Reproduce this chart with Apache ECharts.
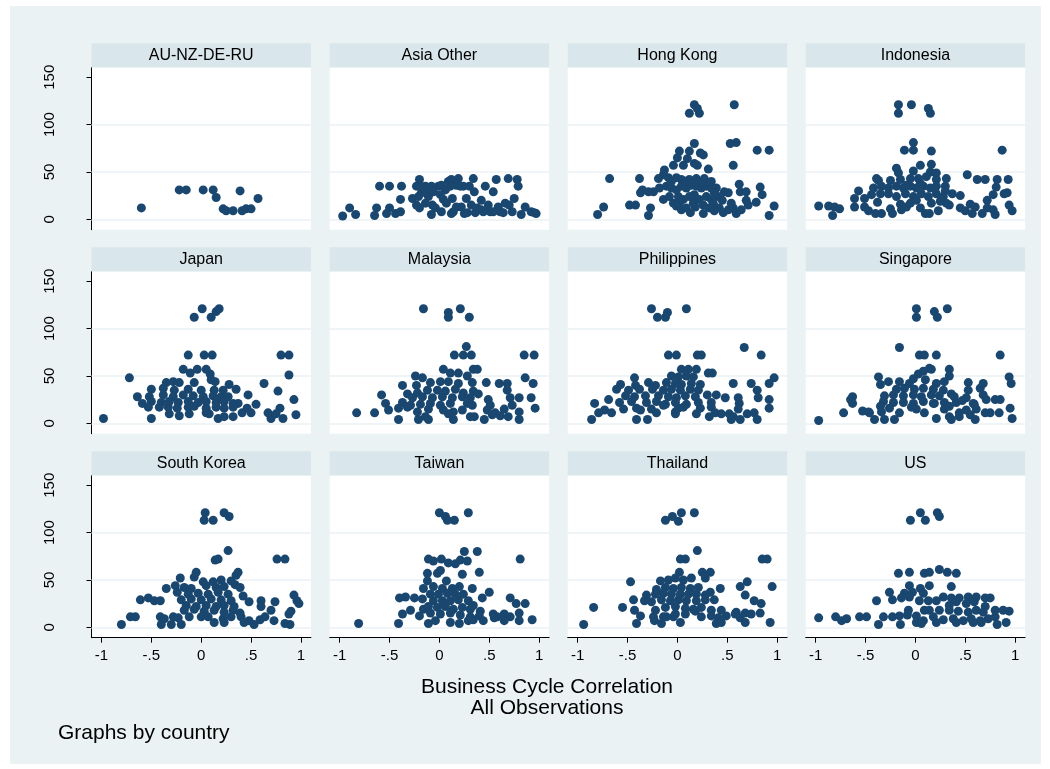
<!DOCTYPE html>
<html lang="en">
<head>
<meta charset="UTF-8">
<title>Business Cycle Correlation by country</title>
<script src="https://cdn.jsdelivr.net/npm/echarts@6/dist/echarts.min.js"></script>
<style>
    body {
        margin: 0;
        background: #fff;
    }

    .zc-frame {
        position: absolute;
        left: 10px;
        top: 6px;
        width: 1031px;
        height: 758px;
        background: #eaf2f3;
    }

    #chart {
        position: absolute;
        left: 0;
        top: 0;
        width: 1050px;
        height: 769px;
    }
</style>
</head>
<body>
<div class="zc-frame"></div>
<div id="chart"></div>
<script>
// panel names, in Stata "by()" order
var countries = ['AU-NZ-DE-RU', 'Asia Other', 'Hong Kong', 'Indonesia',
    'Japan', 'Malaysia', 'Philippines', 'Singapore',
    'South Korea', 'Taiwan', 'Thailand', 'US'];

var xTicks = [-1, -0.5, 0, 0.5, 1];
var xTickLabels = ['-1', '-.5', '0', '.5', '1'];
var yTicks = [0, 50, 100, 150];
var yGridLines = [0, 50, 100];

// [correlation, value]
var auNzDeRu = [[-0.6,12],[-0.22,31],[-0.15,31],[0.02,31],[0.12,31],[0.15,23],[0.22,11],[0.25,9],[0.32,9],
    [0.39,30],[0.41,9],[0.45,11],[0.5,11],[0.57,22]];

var asiaOther = [[-0.97,3.5],[-0.9,12],[-0.84,5],[-0.65,4],[-0.63,12],[-0.6,35],[-0.5,35],[-0.53,6],[-0.5,12],
    [-0.44,6],[-0.39,8],[-0.38,35],[-0.39,21],[-0.27,22],[-0.23,35],[-0.2,42],[-0.19,35],[-0.18,28],[-0.23,15],
    [-0.2,12],[-0.14,35],[-0.13,29],[-0.11,24],[-0.08,35],[-0.07,15],[-0.08,5],[-0.04,12],[-0.01,35],[0.02,36],
    [0.02,8],[0.04,21],[0.06,31],[0.09,40],[0.11,35],[0.12,42],[0.13,22],[0.14,8],[0.17,36],[0.19,43],[0.21,35],
    [0.22,13],[0.24,35],[0.27,22],[0.28,7],[0.3,35],[0.32,15],[0.34,43],[0.35,29],[0.36,7],[0.38,12],[0.42,20],
    [0.44,8],[0.46,35],[0.49,15],[0.51,8],[0.54,29],[0.57,42],[0.59,13],[0.61,8],[0.64,7],[0.69,43],[0.7,15],
    [0.73,8],[0.75,22],[0.78,42],[0.79,35],[0.82,5],[0.86,13],[0.92,8],[0.97,6],[0.95,7],[-0.21,24],[-0.14,17],
    [-0.06,29],[0.01,26],[0.07,17],[0.17,13],[0.25,6],[0.12,6],[0.42,10],[0.54,8],[0.66,17]];

var hongKong = [[0.17,121],[0.12,112],[0.22,112],[0.2,117],[0.57,121],[0.53,80],[0.59,81],[0.8,73],[0.92,73],
    [0.56,57],[0.17,80],[0.02,72],[0.12,72],[0.23,70],[0.26,68],[0.0,65],[0.1,64],[-0.04,57],[0.06,57],[0.17,59],
    [0.2,57],[0.31,53],[-0.13,52],[-0.14,47],[-0.68,43],[-0.38,43],[-0.19,43],[-0.09,44],[-0.01,44],[0.04,42],
    [0.12,42],[0.19,43],[0.27,43],[-0.35,31],[-0.37,28],[-0.29,29],[-0.24,29],[-0.18,33],[-0.11,35],[-0.06,33],
    [-0.01,31],[0.04,35],[0.09,33],[0.14,36],[0.19,35],[0.24,33],[0.29,35],[0.34,33],[0.39,33],[0.47,29],[0.51,28],
    [0.62,37],[0.63,29],[0.69,29],[0.83,34],[0.85,26],[-0.14,21],[-0.08,24],[0.01,24],[0.06,21],[0.12,24],[0.17,26],
    [0.22,21],[0.29,24],[0.34,21],[0.41,24],[0.45,20],[0.69,20],[0.71,15],[0.79,18],[0.97,14],[-0.74,13],[-0.8,5],
    [-0.48,15],[-0.42,15],[-0.27,12],[-0.29,4],[-0.01,14],[0.04,10],[0.09,12],[0.13,7],[0.18,13],[0.26,6],[0.32,12],
    [0.37,9],[0.42,12],[0.46,7],[0.51,10],[0.56,12],[0.59,6],[0.64,10],[0.92,4],[-0.04,17],[0.02,17],[0.16,17],
    [0.26,15],[0.36,17],[0.54,17],[-0.06,40],[0.08,40],[0.24,39],[0.34,40],[0.37,28]];

var indonesia = [[-0.17,121],[-0.17,112],[-0.04,121],[0.13,117],[0.15,112],[-0.02,81],[-0.11,73],[-0.02,73],
    [0.16,72],[0.87,73],[-0.19,54],[-0.17,49],[0.05,57],[0.16,58],[-0.02,51],[0.15,50],[0.21,49],[0.52,47],[0.62,42],
    [0.7,42],[0.82,42],[0.93,42],[-0.39,43],[-0.37,41],[-0.25,41],[-0.15,42],[-0.05,43],[0.03,43],[0.11,45],[0.21,42],
    [0.31,43],[-0.57,30],[-0.42,33],[-0.34,35],[-0.27,33],[-0.19,35],[-0.12,33],[-0.05,35],[0.01,33],[0.08,35],
    [0.15,33],[0.21,35],[0.3,35],[0.3,30],[0.81,34],[-0.61,22],[-0.51,22],[-0.44,26],[-0.35,27],[-0.27,27],[-0.19,24],
    [-0.1,27],[-0.02,24],[0.06,27],[0.13,24],[0.21,27],[0.28,24],[0.37,27],[0.45,25],[0.78,26],[0.89,27],[0.92,28],
    [0.72,20],[-0.97,14],[-0.87,14],[-0.81,13],[-0.76,11],[-0.83,4],[-0.61,13],[-0.51,13],[-0.47,9],[-0.38,18],
    [-0.4,6],[-0.34,6],[-0.25,11],[-0.23,6],[-0.15,16],[-0.14,10],[-0.09,13],[-0.05,17],[0.05,12],[0.1,6],[0.14,6],
    [0.16,17],[0.23,9],[0.31,17],[0.34,15],[0.45,12],[0.5,9],[0.55,16],[0.57,6],[0.6,13],[0.67,6],[0.72,12],[0.78,10],
    [0.8,5],[0.94,15],[0.97,9],[0.01,20],[0.25,19],[-0.09,36],[0.05,38]];

var japan = [[-0.07,112],[0.01,121],[0.1,112],[0.15,118],[0.18,121],[-0.13,72],[0.03,72],[0.11,72],[0.8,72],
    [0.88,72],[0.88,51],[-0.18,57],[-0.11,53],[-0.04,57],[0.05,57],[0.09,52],[-0.72,48],[-0.07,43],[-0.35,43],
    [-0.28,44],[-0.22,43],[0.1,46],[0.14,44],[0.28,41],[0.35,36],[0.63,42],[-0.5,36],[-0.38,37],[-0.27,35],[-0.13,36],
    [0.0,35],[0.13,35],[0.22,35],[-0.64,28],[-0.52,28],[-0.38,30],[-0.28,28],[-0.18,30],[-0.08,29],[0.02,28],[0.12,29],
    [0.2,28],[0.27,28],[0.47,30],[0.77,34],[-0.59,21],[-0.5,23],[-0.4,22],[-0.32,23],[-0.23,22],[-0.13,23],[-0.03,22],
    [0.05,23],[0.15,22],[0.23,23],[0.32,21],[0.37,21],[0.55,20],[0.93,25],[-0.53,17],[-0.42,17],[-0.33,17],[-0.24,16],
    [-0.13,17],[-0.07,18],[0.05,16],[0.15,17],[0.23,16],[0.32,17],[0.46,16],[0.79,16],[-0.98,5],[-0.5,5],[-0.32,10],
    [-0.22,8],[-0.12,10],[0.05,11],[0.08,10],[0.17,5],[0.23,7],[0.32,7],[0.41,11],[0.5,11],[0.67,11],[0.7,5],
    [0.75,10],[0.82,5],[0.95,9]];

var malaysia = [[-0.16,121],[0.09,117],[0.09,112],[0.21,121],[0.3,112],[0.27,81],[0.15,72],[0.24,72],[0.32,72],
    [0.85,72],[0.95,72],[0.34,57],[0.38,57],[0.04,57],[0.11,53],[0.19,53],[0.28,50],[-0.24,50],[-0.17,48],[0.86,48],
    [0.94,42],[0.47,43],[0.6,42],[0.68,42],[-0.37,40],[-0.23,40],[-0.09,43],[0.01,44],[0.09,44],[0.19,42],[0.33,43],
    [0.68,35],[-0.58,30],[-0.32,31],[-0.22,32],[-0.12,35],[-0.02,35],[0.06,34],[0.16,36],[0.24,32],[0.34,34],[0.39,31],
    [-0.27,27],[-0.17,28],[-0.07,27],[0.03,28],[0.13,27],[0.23,28],[0.31,27],[0.49,25],[0.71,27],[0.8,27],[0.92,27],
    [-0.54,21],[-0.37,22],[-0.29,19],[-0.19,20],[-0.09,21],[0.01,19],[0.11,21],[0.28,21],[0.33,19],[0.51,19],[0.73,19],
    [-0.51,14],[-0.41,16],[-0.32,17],[-0.22,12],[-0.11,15],[0.04,14],[0.14,12],[0.23,14],[0.48,14],[0.56,11],[0.65,15],
    [0.8,12],[0.96,16],[-0.83,11],[-0.65,11],[-0.41,4],[-0.21,4],[-0.11,4],[-0.14,7],[0.09,10],[0.14,4],[0.31,7],
    [0.35,7],[0.45,4],[0.53,9],[0.61,8],[0.69,7],[0.8,4]];

var philippines = [[-0.26,121],[-0.2,112],[-0.12,112],[-0.1,117],[0.09,121],[-0.09,72],[-0.01,72],[0.2,72],[0.24,72],
    [0.67,80],[0.84,72],[0.04,57],[0.11,57],[0.19,57],[0.31,53],[0.35,53],[-0.06,50],[0.01,49],[0.09,50],[0.16,49],
    [-0.43,48],[0.97,48],[0.92,42],[-0.57,41],[-0.42,40],[-0.29,43],[-0.22,40],[-0.11,43],[-0.02,42],[0.04,41],[0.14,42],
    [0.23,41],[0.56,42],[0.74,42],[-0.61,36],[-0.49,35],[-0.38,36],[-0.25,36],[-0.14,35],[-0.06,36],[0.03,35],[0.13,36],
    [0.21,35],[0.8,35],[-0.52,29],[-0.43,28],[-0.32,29],[-0.19,29],[-0.09,28],[-0.01,27],[0.08,29],[0.18,28],[0.3,30],
    [0.39,30],[0.81,27],[-0.69,25],[-0.58,22],[-0.46,23],[-0.31,22],[-0.21,23],[-0.12,20],[-0.02,22],[0.09,20],[0.21,22],
    [0.34,22],[0.48,27],[0.61,27],[0.62,21],[0.92,25],[-0.83,21],[-0.79,11],[-0.73,14],[-0.66,11],[-0.54,15],[-0.41,16],
    [-0.37,14],[-0.26,15],[-0.21,11],[-0.14,19],[-0.02,12],[0.01,16],[0.06,17],[0.19,10],[0.23,16],[0.34,17],[0.38,11],
    [0.44,10],[0.52,10],[0.61,15],[0.7,10],[0.77,11],[0.92,16],[-0.86,4],[-0.41,4],[-0.3,4],[-0.02,10],[0.32,7],
    [0.56,7],[0.63,4],[0.8,4],[0.54,4]];

var singapore = [[0.01,121],[0.01,112],[0.19,118],[0.22,112],[0.32,121],[-0.16,80],[0.04,72],[0.09,72],[0.21,72],
    [0.85,72],[0.14,58],[0.16,57],[0.34,57],[0.34,50],[0.03,52],[0.08,55],[-0.37,49],[0.94,49],[0.96,42],[-0.35,41],
    [-0.27,44],[-0.16,44],[-0.06,42],[-0.02,47],[0.1,46],[0.21,42],[0.29,44],[0.53,43],[0.68,42],[0.65,37],[-0.19,36],
    [-0.11,37],[-0.01,36],[0.08,37],[0.18,36],[0.28,35],[0.36,31],[0.53,35],[-0.63,28],[-0.31,29],[-0.22,30],[-0.12,29],
    [-0.02,30],[0.06,28],[0.16,30],[0.24,29],[0.39,28],[0.51,27],[0.68,30],[0.8,25],[0.85,25],[-0.65,25],[-0.63,21],
    [-0.32,23],[-0.22,22],[-0.12,22],[-0.02,21],[0.08,23],[0.18,21],[0.29,22],[0.41,22],[0.47,24],[0.58,21],[0.71,25],
    [-0.53,13],[-0.47,12],[-0.35,18],[-0.26,16],[-0.16,11],[-0.04,17],[0.01,15],[0.19,21],[0.29,15],[0.34,18],[0.44,11],
    [0.51,14],[0.59,20],[0.61,15],[0.7,11],[0.75,11],[0.84,11],[0.95,16],[-0.97,3],[-0.72,11],[-0.46,11],[-0.41,4],
    [-0.31,4],[-0.21,4],[-0.34,12],[0.09,11],[0.21,5],[0.34,7],[0.36,4],[0.44,7],[0.55,9],[0.6,4],[0.97,5]];

var southKorea = [[0.04,121],[0.03,113],[0.12,113],[0.23,121],[0.28,117],[0.27,81],[0.14,71],[0.17,72],[0.76,72],
    [0.84,72],[0.37,58],[0.35,55],[-0.05,58],[-0.07,53],[-0.21,52],[0.2,50],[0.3,49],[0.02,48],[0.12,48],[-0.35,41],
    [-0.26,44],[-0.17,42],[-0.1,41],[0.05,44],[0.15,42],[0.23,43],[0.34,45],[0.39,42],[-0.24,37],[-0.13,35],[-0.03,36],
    [0.07,35],[0.17,37],[0.27,35],[0.42,33],[0.93,34],[-0.61,29],[-0.53,31],[-0.47,28],[-0.41,28],[-0.2,29],[-0.1,30],
    [0.0,29],[0.1,30],[0.2,29],[0.3,28],[0.48,27],[0.6,28],[0.74,27],[0.96,28],[0.98,25],[-0.15,23],[-0.05,22],
    [0.05,23],[0.15,22],[0.23,23],[0.33,22],[0.6,22],[-0.17,18],[-0.07,19],[0.03,17],[0.13,18],[0.23,16],[0.32,18],
    [0.39,15],[0.7,18],[0.9,17],[0.88,14],[-0.71,11],[-0.66,11],[-0.41,11],[-0.37,9],[-0.28,11],[-0.23,10],[-0.12,11],
    [0.0,11],[0.07,11],[0.22,9],[0.3,11],[0.4,11],[0.48,7],[0.59,8],[0.64,11],[0.73,7],[-0.8,3],[-0.4,3],[-0.3,3],
    [-0.2,3],[0.13,5],[0.23,5],[0.43,5],[0.53,3],[0.84,4],[0.89,3]];

var taiwan = [[0.0,121],[0.06,117],[0.08,113],[0.15,113],[0.29,121],[0.25,80],[0.38,80],[-0.11,72],[-0.06,70],
    [0.02,72],[0.09,68],[0.16,67],[0.21,71],[0.28,70],[0.81,72],[-0.02,57],[0.01,60],[-0.12,57],[0.23,56],[0.4,58],
    [-0.12,49],[0.07,49],[0.2,43],[-0.16,41],[-0.06,43],[0.03,41],[0.13,41],[0.33,41],[0.5,37],[-0.09,35],[-0.01,35],
    [0.08,36],[0.16,35],[0.24,35],[0.43,31],[-0.4,31],[-0.34,32],[-0.25,31],[-0.17,30],[-0.06,28],[0.03,28],[0.11,28],
    [0.19,29],[0.29,28],[0.34,23],[0.71,31],[0.77,25],[0.86,25],[-0.29,18],[-0.16,19],[-0.11,22],[-0.02,21],[0.06,22],
    [0.14,19],[0.23,21],[0.31,19],[0.41,17],[-0.37,14],[-0.2,12],[-0.09,15],[0.01,14],[0.11,15],[0.21,13],[0.31,11],
    [0.4,12],[0.54,14],[0.58,11],[0.65,14],[0.71,11],[0.8,15],[-0.81,4],[-0.41,4],[-0.11,4],[-0.04,7],[0.11,5],
    [0.2,4],[0.29,7],[0.34,8],[0.44,7],[0.65,7],[0.8,7],[0.93,8],[0.55,10]];

var thailand = [[-0.12,113],[-0.05,117],[0.01,112],[0.04,121],[0.17,121],[0.2,81],[0.03,72],[0.08,72],[0.85,72],
    [0.9,72],[0.25,58],[0.33,58],[0.28,52],[0.02,58],[-0.47,48],[-0.17,49],[-0.09,50],[-0.02,52],[0.06,50],[0.14,52],
    [0.7,48],[0.63,43],[0.95,43],[-0.21,40],[-0.12,42],[-0.04,41],[0.04,42],[0.13,41],[0.21,42],[0.43,41],[0.68,34],
    [-0.31,34],[-0.22,35],[-0.14,36],[-0.06,35],[0.03,35],[0.11,35],[0.19,35],[0.28,34],[0.33,37],[-0.44,29],[-0.33,28],
    [-0.26,27],[-0.16,29],[-0.07,28],[0.01,29],[0.09,28],[0.19,28],[0.28,29],[0.37,29],[0.77,28],[0.84,25],[-0.84,21],
    [-0.55,21],[-0.43,18],[-0.22,18],[-0.12,21],[-0.02,22],[0.08,20],[0.16,19],[0.24,21],[0.34,18],[0.44,18],[0.59,16],
    [0.68,15],[0.74,14],[0.83,15],[-0.37,12],[-0.24,11],[-0.14,11],[-0.04,11],[0.08,14],[0.18,17],[0.24,11],[0.34,12],
    [0.41,10],[0.49,12],[0.58,14],[0.63,10],[-0.94,3],[-0.41,4],[-0.23,7],[-0.16,4],[0.03,5],[0.39,4],[0.44,5],
    [0.68,5],[0.93,5],[-0.11,11],[-0.02,14]];

var us = [[-0.05,113],[0.05,121],[0.1,113],[0.22,121],[0.24,117],[-0.17,57],[-0.06,58],[0.09,57],[0.14,58],
    [0.24,61],[0.32,58],[0.41,57],[0.36,43],[-0.06,44],[0.14,44],[0.05,41],[-0.26,37],[-0.11,36],[-0.03,37],[0.08,36],
    [-0.39,28],[-0.23,29],[-0.14,31],[-0.06,32],[0.04,28],[0.13,28],[0.21,28],[0.28,32],[0.36,31],[0.44,31],[0.53,32],
    [0.61,32],[0.7,31],[0.75,31],[0.41,27],[0.51,25],[0.59,27],[0.7,22],[0.34,23],[-0.97,10],[-0.8,11],[-0.74,7],
    [-0.69,9],[-0.56,11],[-0.49,11],[-0.32,11],[-0.23,11],[-0.16,12],[-0.07,18],[-0.08,13],[0.01,12],[0.09,18],
    [0.14,18],[0.24,18],[0.34,18],[0.43,17],[0.53,16],[0.61,18],[0.68,16],[0.8,18],[0.88,18],[0.94,17],[0.08,7],
    [0.18,11],[0.28,8],[0.38,9],[0.48,7],[0.56,9],[0.65,7],[0.73,9],[0.8,11],[-0.37,3],[-0.15,3],[0.01,5],[0.06,4],
    [0.21,5],[0.41,5],[0.58,5],[0.66,5],[0.82,3],[0.91,5]];

var panelData = [auNzDeRu, asiaOther, hongKong, indonesia, japan, malaysia,
    philippines, singapore, southKorea, taiwan, thailand, us];

var fontFamily = "Arial, 'Liberation Sans', sans-serif";
var colLeft = [91.5, 329.7, 567.7, 805.7];
var rowTop = [67.8, 271.8, 475.8];
var plotW = 219.4;
var plotH = 161.9;
var stripH = 24;

var grids = [], xAxes = [], yAxes = [], series = [], graphics = [];

for (var i = 0; i < countries.length; i++) {
    var row = Math.floor(i / 4);
    var col = i % 4;
    var isBottom = row === 2;
    var isLeft = col === 0;

    grids.push({
        left: colLeft[col],
        top: rowTop[row],
        width: plotW,
        height: plotH,
        show: true,
        backgroundColor: '#fff',
        borderWidth: 0,
        containLabel: false,
        outerBoundsMode: 'none'
    });

    xAxes.push({
        gridIndex: i,
        type: 'value',
        min: -1.1,
        max: 1.1,
        axisLine: { show: isBottom, onZero: false, lineStyle: { color: '#000', width: 1 } },
        axisTick: { show: isBottom, customValues: xTicks, length: 5, lineStyle: { color: '#000' } },
        axisLabel: {
            show: isBottom,
            customValues: xTicks,
            margin: 11,
            fontSize: 15,
            fontFamily: fontFamily,
            color: '#000',
            formatter: function (v) {
                var k = xTicks.indexOf(v);
                return k >= 0 ? xTickLabels[k] : '';
            }
        },
        splitLine: { show: false }
    });

    yAxes.push({
        gridIndex: i,
        type: 'value',
        min: -11,
        max: 160,
        axisLine: { show: isLeft, onZero: false, lineStyle: { color: '#000', width: 1 } },
        axisTick: { show: isLeft, customValues: yTicks, length: 5, lineStyle: { color: '#000' } },
        axisLabel: {
            show: isLeft,
            customValues: yTicks,
            rotate: 90,
            margin: 34,
            fontSize: 15,
            fontFamily: fontFamily,
            color: '#000'
        },
        splitLine: { show: false }
    });

    series.push({
        type: 'scatter',
        name: countries[i],
        xAxisIndex: i,
        yAxisIndex: i,
        data: panelData[i],
        symbol: 'circle',
        symbolSize: 9,
        z: 3,
        itemStyle: { color: '#1a476f', opacity: 1 },
        emphasis: { disabled: true },
        markLine: {
            silent: true,
            z: 1,
            symbol: ['none', 'none'],
            label: { show: false },
            lineStyle: { color: '#eaf2f3', width: 1.5, type: 'solid' },
            data: yGridLines.map(function (v) { return { yAxis: v }; })
        }
    });

    // title strip above each panel
    graphics.push({
        type: 'rect',
        shape: { x: colLeft[col], y: rowTop[row] - stripH - 0.5, width: plotW, height: stripH },
        style: { fill: '#d9e6eb' }
    });
    graphics.push({
        type: 'text',
        x: colLeft[col] + plotW / 2,
        y: rowTop[row] - stripH / 2 - 0.5,
        style: {
            text: countries[i],
            font: '16px ' + fontFamily,
            fill: '#000',
            textAlign: 'center',
            textVerticalAlign: 'middle'
        }
    });
}

graphics.push({
    type: 'text', x: 547, y: 687,
    style: { text: 'Business Cycle Correlation', font: '21px ' + fontFamily, fill: '#000',
        textAlign: 'center', textVerticalAlign: 'middle' }
});
graphics.push({
    type: 'text', x: 547, y: 708,
    style: { text: 'All Observations', font: '21px ' + fontFamily, fill: '#000',
        textAlign: 'center', textVerticalAlign: 'middle' }
});
graphics.push({
    type: 'text', x: 58, y: 733,
    style: { text: 'Graphs by country', font: '21px ' + fontFamily, fill: '#000',
        textAlign: 'left', textVerticalAlign: 'middle' }
});

var chart = echarts.init(document.getElementById('chart'));
chart.setOption({
    animation: false,
    grid: grids,
    xAxis: xAxes,
    yAxis: yAxes,
    series: series,
    graphic: graphics
});
</script>
</body>
</html>
